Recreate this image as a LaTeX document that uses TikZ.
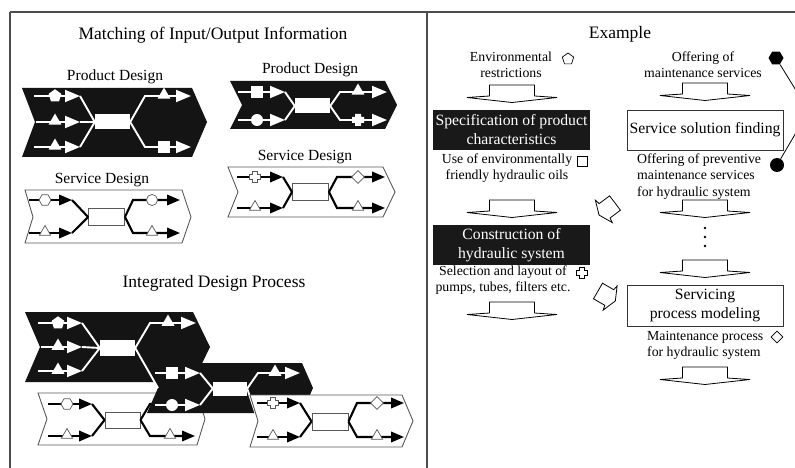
\documentclass[tikz,border=0pt]{standalone}
\usepackage{fontspec}
\setmainfont{Liberation Serif}
\usetikzlibrary{arrows.meta,shapes.geometric}
\tikzset{
  frame/.style={draw=black!70,line width=1.1pt},
  pshape/.style={fill=black!92},
  sshape/.style={fill=white,draw=black!65,line width=0.9pt},
  parr/.style={draw=white,line width=1.9pt,-{Triangle[length=15pt,width=12pt]}},
  pline/.style={draw=white,line width=1.9pt},
  sarr/.style={draw=black,line width=2.1pt,-{Triangle[length=13pt,width=10.5pt]}},
  sline/.style={draw=black,line width=2.1pt},
  prect/.style={fill=white,inner sep=0pt,minimum width=35pt,minimum height=15pt},
  srect/.style={fill=white,draw=black!65,line width=0.9pt,inner sep=0pt,minimum width=36pt,minimum height=17pt},
  psym/.style={fill=white,inner sep=0pt},
  ssym/.style={fill=white,draw=black!65,line width=0.7pt,inner sep=0pt},
  ptri/.style={regular polygon,regular polygon sides=3,minimum size=15pt},
  stri/.style={regular polygon,regular polygon sides=3,minimum size=13pt},
  pent/.style={regular polygon,regular polygon sides=5,minimum size=13.5pt},
  hexa/.style={regular polygon,regular polygon sides=6,minimum size=12pt},
  sq/.style={rectangle,minimum size=11.5pt},
  pcirc/.style={circle,minimum size=12pt},
  scirc/.style={circle,minimum size=11pt},
  diam/.style={diamond,minimum size=13pt},
  plussym/.pic={\path[pic actions] (-2.5,-5.5) -- (2.5,-5.5) -- (2.5,-2.5) -- (5.5,-2.5) -- (5.5,2.5) -- (2.5,2.5) -- (2.5,5.5) -- (-2.5,5.5) -- (-2.5,2.5) -- (-5.5,2.5) -- (-5.5,-2.5) -- (-2.5,-2.5) -- cycle;},
  bigplus/.pic={\path[pic actions] (-3,-6) -- (3,-6) -- (3,-3) -- (6,-3) -- (6,3) -- (3,3) -- (3,6) -- (-3,6) -- (-3,3) -- (-6,3) -- (-6,-3) -- (-3,-3) -- cycle;},
  blockarrow/.pic={\draw[fill=white,line width=0.8pt] (-22.5,0) -- (22.5,0) -- (22.5,11) -- (45,12.5) -- (0,17.5) -- (-45,12.5) -- (-22.5,11) -- cycle;},
  tiltarrow/.pic={\draw[fill=white,line width=0.8pt] (-9,0) -- (9,0) -- (9,13) -- (14,14) -- (0,20) -- (-14,14) -- (-9,13) -- cycle;},
  title/.style={font=\fontsize{17.5}{20}\selectfont,inner sep=0pt},
  label/.style={font=\fontsize{15.5}{18}\selectfont,inner sep=0pt},
  note/.style={font=\fontsize{13.8}{16}\selectfont,align=center,inner sep=0pt},
  blackbox/.style={fill=black!90,text=white,font=\fontsize{15.7}{19}\selectfont,align=center,minimum width=157pt,minimum height=40pt,inner sep=0pt},
  whitebox/.style={fill=white,draw=black!80,line width=0.8pt,font=\fontsize{15.7}{19}\selectfont,align=center,minimum width=156pt,minimum height=40pt,inner sep=0pt},
  dot/.style={circle,fill=black,minimum size=2.6pt,inner sep=0pt},
}
\begin{document}
\begin{tikzpicture}[x=1pt,y=-1pt]
\useasboundingbox (0,0) rectangle (795,468);
\fill[white] (0,0) rectangle (795,468);
% frame
\draw[frame] (10,12) -- (795,12);
\draw[frame] (10,12) -- (10,468);
\draw[frame] (427,12) -- (427,468);

% ---------- left panel ----------
\node[title] (t1) at (213,35) {Matching of Input/Output Information};
\node[label] (lA) at (115,77) {Product Design};
\node[label] (lB) at (310,70) {Product Design};
\node[label] (lC) at (102,180) {Service Design};
\node[label] (lD) at (305,157) {Service Design};
\node[title] (t2) at (214,283) {Integrated Design Process};

% Unit A: product design, three inputs
\fill[pshape] (22,88) -- (192,88) -- (207,122) -- (192,157) -- (22,157) -- (35,122) -- cycle;
\draw[parr] (34,96) -- (80,96);
\draw[parr] (36,122) -- (80,122);
\draw[parr] (34,147) -- (80,147);
\node[psym,pent] (a1) at (55,96) {};
\node[psym,ptri] (a2) at (55,121) {};
\node[psym,ptri] (a3) at (55,146) {};
\node[prect] (ra) at (112.5,122) {};
\draw[pline] (80,96) -- (ra.west);
\draw[pline] (80,122) -- (ra.west);
\draw[pline] (80,147) -- (ra.west);
\draw[parr] (ra.east) -- (145,96) -- (191,96);
\draw[parr] (ra.east) -- (145,147) -- (191,147);
\node[psym,ptri] (a4) at (164,95) {};
\node[psym,sq] (a5) at (164,147) {};

% Unit B: product design, two inputs
\fill[pshape] (230,81) -- (385,81) -- (397,105) -- (385,129) -- (230,129) -- (242,105) -- cycle;
\draw[parr] (238,92) -- (285,92);
\draw[parr] (238,120) -- (285,120);
\node[psym,sq] (b1) at (257,92) {};
\node[psym,pcirc] (b2) at (257,120) {};
\node[prect] (rb) at (312.5,106) {};
\draw[pline] (285,92) -- (rb.west);
\draw[pline] (285,120) -- (rb.west);
\draw[parr] (rb.east) -- (340,92) -- (387,92);
\draw[parr] (rb.east) -- (340,120) -- (387,120);
\node[psym,ptri] (b3) at (358,91) {};
\pic[psym] at (358,120) {bigplus};

% Unit C: service design
\filldraw[sshape] (25,190) -- (182,190) -- (191,217) -- (182,243) -- (25,243) -- (33,217) -- cycle;
\draw[sarr] (29,200) -- (72,200);
\draw[sarr] (29,233) -- (72,233);
\node[ssym,hexa] (c1) at (45,200) {};
\node[ssym,stri] (c2) at (45,232) {};
\node[srect] (rc) at (106.5,217) {};
\draw[sline] (72,200) -- (rc.west);
\draw[sline] (72,233) -- (rc.west);
\draw[sarr] (rc.east) -- (133,200) -- (180,200);
\draw[sarr] (rc.east) -- (133,233) -- (180,233);
\node[ssym,scirc] (c3) at (152,200) {};
\node[ssym,stri] (c4) at (152,232) {};

% Unit D: service design
\filldraw[sshape] (228,167) -- (383,167) -- (395,192) -- (383,217) -- (228,217) -- (238,192) -- cycle;
\draw[sarr] (237,177) -- (283,177);
\draw[sarr] (237,208) -- (283,208);
\pic[ssym] at (255,177) {plussym};
\node[ssym,stri] (d2) at (255,207) {};
\node[srect] (rd) at (310.5,192) {};
\draw[sline] (283,177) -- (rd.west);
\draw[sline] (283,208) -- (rd.west);
\draw[sarr] (rd.east) -- (337,177) -- (385,177);
\draw[sarr] (rd.east) -- (337,208) -- (385,208);
\node[ssym,diam] (d3) at (358,177) {};
\node[ssym,stri] (d4) at (358,207) {};

% ---------- integrated process ----------
% Unit E
\fill[pshape] (25,312) -- (193,312) -- (210,347) -- (193,382) -- (25,382) -- (40,347) -- cycle;
\draw[parr] (38,323) -- (82,323);
\draw[parr] (41,347) -- (82,347);
\draw[parr] (38,371) -- (82,371);
\node[psym,pent] (e1) at (58,323) {};
\node[psym,ptri] (e2) at (58,346) {};
\node[psym,ptri] (e3) at (58,370) {};
\node[prect,minimum height=16pt] (re) at (117.5,348) {};
\draw[pline] (82,323) -- (re.west);
\draw[pline] (82,347) -- (re.west);
\draw[pline] (82,371) -- (re.west);
\draw[parr] (re.east) -- (150,323) -- (196,323);
\node[psym,ptri] (e4) at (168,322) {};

% Unit F
\filldraw[sshape] (38,393) -- (197,393) -- (205,419) -- (197,445) -- (38,445) -- (47,419) -- cycle;
\draw[sarr] (48,404) -- (92,404);
\draw[sarr] (48,436) -- (92,436);
\node[ssym,hexa] (f1) at (67,404) {};
\node[ssym,stri] (f2) at (67,435) {};
\node[srect,minimum width=35pt,minimum height=16pt] (rf) at (122.5,420) {};
\draw[sline] (92,404) -- (rf.west);
\draw[sline] (92,436) -- (rf.west);
\draw[sarr] (rf.east) -- (150,404) -- (195,404);
\draw[sarr] (rf.east) -- (150,436) -- (195,436);
\node[ssym,scirc] (f3) at (170,404) {};
\node[ssym,stri] (f4) at (170,435) {};

% Unit G
\fill[pshape] (147,363) -- (302,363) -- (313,388) -- (302,413) -- (147,413) -- (158,388) -- cycle;
\draw[parr] (155,373) -- (200,373);
\draw[parr] (155,405) -- (200,405);
\node[psym,sq] (g1) at (172,373) {};
\node[psym,pcirc] (g2) at (172,405) {};
\node[prect,minimum width=34pt,minimum height=14pt] (rg) at (230,388.5) {};
\draw[pline] (200,373) -- (rg.west);
\draw[pline] (200,405) -- (rg.west);
\draw[parr] (rg.east) -- (258,373) -- (300,373);
\node[psym,ptri] (g3) at (275,372) {};
\coordinate (gin) at (158,388);
\draw[pline] (re.east) -- (gin);
\coordinate (hin) at (258,421);
\draw[pline] (rg.east) -- (hin);

% Unit H
\filldraw[sshape] (250,395) -- (402,395) -- (413,421) -- (402,447) -- (250,447) -- (258,421) -- cycle;
\draw[sarr] (257,403) -- (300,403);
\draw[sarr] (257,437) -- (300,437);
\pic[ssym] at (273,403) {plussym};
\node[ssym,stri] (h2) at (273,436) {};
\node[srect] (rh) at (330,421.5) {};
\draw[sline] (300,403) -- (rh.west);
\draw[sline] (300,437) -- (rh.west);
\draw[sarr] (rh.east) -- (357,403) -- (404,403);
\draw[sarr] (rh.east) -- (357,437) -- (404,437);
\node[ssym,diam] (h3) at (377,403) {};
\node[ssym,stri] (h4) at (377,436) {};

% ---------- right panel ----------
\node[title] (t3) at (620,34) {Example};

% left column
\node[note] (envtxt) at (511,65) {Environmental\\restrictions};
\node[draw,line width=0.7pt,regular polygon,regular polygon sides=5,minimum size=12pt,inner sep=0pt] (envsym) at (568,59) {};
\pic at (512,85) {blockarrow};
\node[blackbox] (spec) at (511.5,130) {Specification of product\\characteristics};
\node[note] (usetxt) at (507,168) {Use of environmentally\\friendly hydraulic oils};
\node[draw,line width=0.7pt,rectangle,minimum size=10pt,inner sep=0pt] (usesym) at (582,161) {};
\pic at (512,200) {blockarrow};
\node[blackbox] (constr) at (511.5,245) {Construction of\\hydraulic system};
\node[note] (seltxt) at (503,280.5) {Selection and layout of\\pumps, tubes, filters etc.};
\pic[draw,line width=0.7pt,fill=white] at (582,273) {plussym};
\pic at (512,302) {blockarrow};

% right column
\node[note] (offtxt) at (703,65) {Offering of\\maintenance services};
\pic at (705,83) {blockarrow};
\node[whitebox] (ssf) at (705,130) {Service solution finding};
\node[note,align=left,anchor=west,font=\fontsize{13.8}{16.5}\selectfont] (prevtxt) at (637,176.5) {Offering of preventive\\maintenance services\\for hydraulic system};
\pic at (705,200) {blockarrow};
\node[dot] (dot1) at (705,228) {};
\node[dot] (dot2) at (705,237) {};
\node[dot] (dot3) at (705,246) {};
\pic at (705,260) {blockarrow};
\node[whitebox,minimum height=41pt] (spm) at (705,305.5) {Servicing\\process modeling};
\node[note,align=left,anchor=west] (mainttxt) at (647,345) {Maintenance process\\for hydraulic system};
\node[draw,line width=0.7pt,diamond,minimum size=12pt,inner sep=0pt] (maintsym) at (777,337) {};
\pic at (705,367) {blockarrow};

% tilted arrows between columns
\pic[rotate=-53] at (615,203) {tiltarrow};
\pic[rotate=60] at (598,291) {tiltarrow};

% marks at the right edge
\node[fill=black,regular polygon,regular polygon sides=6,minimum size=15pt,inner sep=0pt] (hexr) at (776,58) {};
\coordinate (hexend) at (797,92);
\draw[line width=0.8pt] (hexr) -- (hexend);
\node[fill=black,circle,minimum size=14pt,inner sep=0pt] (circr) at (777,165) {};
\coordinate (circend) at (797,131);
\draw[line width=0.8pt] (circr) -- (circend);
\end{tikzpicture}
\end{document}
